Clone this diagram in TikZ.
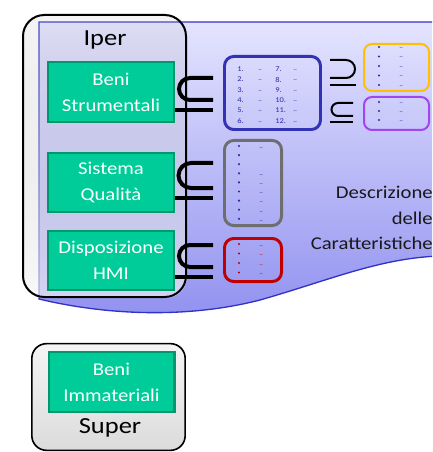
\documentclass[tikz,border=0pt]{standalone}
\usepackage{fontspec}
\setmainfont{Carlito}[FakeStretch=1.15]
\usetikzlibrary{fadings}
\definecolor{greenfill}{RGB}{0,204,153}
\definecolor{greenedge}{RGB}{0,150,110}
\definecolor{bgtop}{RGB}{228,228,255}
\definecolor{bgbot}{RGB}{145,145,240}
\definecolor{bgedge}{RGB}{50,50,200}
\definecolor{navy}{RGB}{40,40,170}
\definecolor{listblue}{RGB}{50,50,180}
\definecolor{ygold}{RGB}{255,192,0}
\definecolor{purp}{RGB}{160,70,240}
\definecolor{grayedge}{RGB}{110,110,110}
\definecolor{redge}{RGB}{192,0,0}
\definecolor{textdark}{RGB}{25,25,25}
\tikzfading[name=ipfade, top color=transparent!85, bottom color=transparent!35]
\begin{document}
\begin{tikzpicture}[x=0.75pt,y=-0.75pt,
  greenbox/.style={draw=greenedge, line width=1.6pt, fill=greenfill, text=white,
    minimum width=94.4pt, minimum height=44.6pt, align=center, inner sep=0pt,
    font=\fontsize{13.5}{19.5}\selectfont},
  grouplabel/.style={font=\fontsize{17.25}{20}\selectfont, text=black, inner sep=0pt},
  listbox/.style={draw=#1, rounded corners=7pt, line width=2.2pt, inner sep=0pt},
  setbox/.style={draw=#1, rounded corners=6pt, line width=1.5pt, inner sep=0pt},
  bigsub/.style={line width=3pt},
  smallsub/.style={line width=1.5pt},
  listtext/.style={font=\fontsize{5.5}{7}\selectfont, text=navy, inner sep=0pt, anchor=west},
  dd/.style={font=\fontsize{5}{5}\selectfont, inner sep=0pt, anchor=west},
]
\useasboundingbox (0,0) rectangle (432,452);
\clip (0,0) rectangle (432,452);

% background document shape
\shadedraw[top color=bgtop, bottom color=bgbot, draw=bgedge, line width=1pt]
  (39,22) -- (440,22) -- (440,256)
  .. controls (380,258) and (330,280) .. (260,300)
  .. controls (190,318) and (110,316) .. (39,299) -- cycle;

% Iper group
\shade[top color=gray!55, bottom color=gray!8, path fading=ipfade, rounded corners=16pt]
  (22,14) rectangle (187,298);
\node[draw=black, line width=1.5pt, rounded corners=16pt, minimum width=122.25pt,
  minimum height=211.5pt, inner sep=0pt] (iper) at (104.5,156) {};
\node[grouplabel] (iperlabel) at (105,40) {Iper};

\node[greenbox] (bs) at (111,92) {Beni\\Strumentali};
\node[greenbox] (sq) at (111,182.5) {Sistema\\Qualità};
\node[greenbox] (dh) at (111,260.5) {Disposizione\\HMI};

% Super group
\node[draw=black, line width=1.2pt, rounded corners=11pt, top color=gray!8,
  bottom color=gray!28, minimum width=115pt, minimum height=80pt, inner sep=0pt]
  (super) at (108.5,397) {};
\node[greenbox] (bi) at (111.5,382) {Beni\\Immateriali};
\node[grouplabel] (superlabel) at (110,428) {Super};

% big subset symbols
\draw[bigsub] (213,78) -- (190,78) arc[start angle=270, end angle=90, radius=11] -- (213,100);
\draw[bigsub] (bs.east |- 0,110) -- (213,110);
\draw[bigsub] (213,163) -- (191,163) arc[start angle=270, end angle=90, radius=12.5] -- (213,188);
\draw[bigsub] (sq.east |- 0,198) -- (213,198);
\draw[bigsub] (213,245) -- (190,245) arc[start angle=270, end angle=90, radius=11] -- (213,267);
\draw[bigsub] (dh.east |- 0,277) -- (213,277);

% list boxes
\node[listbox=listblue, minimum width=72pt, minimum height=54.8pt] (blist) at (272.5,93) {};
\node[listbox=grayedge, minimum width=42.8pt, minimum height=63.8pt] (glist) at (253,183) {};
\node[listbox=redge, minimum width=42.8pt, minimum height=32.3pt] (rlist) at (253,260) {};
\node[setbox=ygold, minimum width=48.75pt, minimum height=35.25pt] (ylist) at (396.5,67.5) {};
\node[setbox=purp, minimum width=48.75pt, minimum height=24.75pt] (plist) at (396.5,113.5) {};

% small superset / subset
\draw[smallsub] (330,60) -- (346,60) arc[start angle=270, end angle=450, radius=9] -- (330,78);
\draw[smallsub] (330,85) -- (356,85);
\draw[smallsub] (353,103) -- (338,103) arc[start angle=270, end angle=90, radius=6.5] -- (353,116);
\draw[smallsub] (330,122) -- (353,122);

% blue list contents
\foreach \a/\b [count=\i] in {1/7,2/8,3/9,4/10,5/11,6/12} {
  \node[listtext] (na\i) at (237,{59+10.3*\i}) {\a.};
  \node[dd, text=navy] (nb\i) at (258,{60+10.3*\i}) {..};
  \node[listtext] (nc\i) at (275,{59+10.3*\i}) {\b.};
  \node[dd, text=navy] (nd\i) at (293,{60+10.3*\i}) {..};
}

% yellow list contents
\foreach \y [count=\i] in {47,56.5,66,75.5,85} {
  \fill[navy] (379,\y) circle (0.9pt);
  \node[dd, text=navy] (yd\i) at (399,\y+1) {..};
}
% purple list contents
\foreach \y [count=\i] in {102,111,120} {
  \fill[navy] (379,\y) circle (0.9pt);
  \node[dd, text=navy] (pd\i) at (399,\y+1) {..};
}
% gray list contents
\foreach \k in {0,...,8} {
  \fill[navy] (239,{146+9.1*\k}) circle (0.9pt);
}
\foreach \k [count=\i] in {0,3,4,5,6,7,8} {
  \node[dd, text=navy] (gd\i) at (259,{148+9.1*\k}) {..};
}
% red list contents
\foreach \y [count=\i] in {244,253.5,263,272.5} {
  \fill[redge] (239,\y) circle (0.9pt);
  \node[dd, text=redge] (rd\i) at (259,\y+2) {..};
}

% description
\node[anchor=east, align=right, inner sep=0pt, text=textdark,
  font=\fontsize{13.5}{19}\selectfont] (descr) at (433,218)
  {Descrizione\\delle\\Caratteristiche};
\end{tikzpicture}
\end{document}
